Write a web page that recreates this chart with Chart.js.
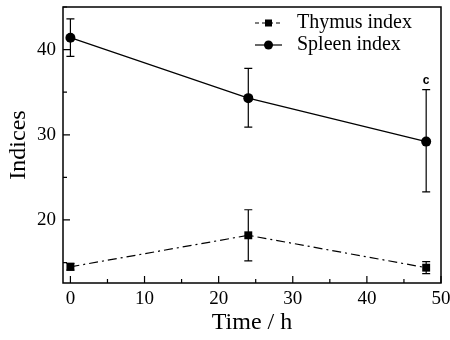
<!DOCTYPE html>
<html>
<head>
<meta charset="utf-8">
<script src="https://cdn.jsdelivr.net/npm/chart.js@4"></script>
<style>
  html, body { margin: 0; padding: 0; background: #fff; }
  #wrap { width: 450px; height: 340px; }
</style>
</head>
<body>
<div id="wrap"><canvas id="indexChart"></canvas></div>
<script>
// time points (h)
const hours = [0, 24, 48];

// series means and error bar limits
const thymus = [14.5, 18.2, 14.4];
const thymusHi = [14.9, 21.2, 15.1];
const thymusLo = [14.1, 15.2, 13.7];

const spleen = [41.4, 34.3, 29.2];
const spleenHi = [43.6, 37.8, 35.3];
const spleenLo = [39.2, 30.9, 23.3];

const xTickValues = [0, 10, 20, 30, 40, 50];
const yTickValues = [20, 30, 40];
const xMinorValues = [5, 15, 25, 35, 45];
const yMinorValues = [15, 25, 35, 45];

const serif = "'Liberation Serif', 'Times New Roman', serif";

const toPoints = (xs, ys) => xs.map((x, i) => ({ x: x, y: ys[i] }));

// error bars, inside ticks, frame, legend and the "c" mark
const decorations = {
    id: 'decorations',
    afterDatasetsDraw(chart) {
        const ctx = chart.ctx;
        const xs = chart.scales.x;
        const ys = chart.scales.y;
        const area = chart.chartArea;
        ctx.save();
        ctx.strokeStyle = '#000';
        ctx.lineWidth = 1.2;

        const bars = [[thymusHi, thymusLo], [spleenHi, spleenLo]];
        bars.forEach(function (pair) {
            hours.forEach(function (h, i) {
                const px = xs.getPixelForValue(h);
                const top = ys.getPixelForValue(pair[0][i]);
                const bot = ys.getPixelForValue(pair[1][i]);
                ctx.beginPath();
                ctx.moveTo(px, top); ctx.lineTo(px, bot);
                ctx.moveTo(px - 4, top); ctx.lineTo(px + 4, top);
                ctx.moveTo(px - 4, bot); ctx.lineTo(px + 4, bot);
                ctx.stroke();
            });
        });

        // frame
        ctx.lineWidth = 1.5;
        ctx.strokeRect(area.left, area.top, area.right - area.left, area.bottom - area.top);

        // inward ticks
        ctx.lineWidth = 1.2;
        ctx.beginPath();
        xTickValues.forEach(function (v) {
            const px = xs.getPixelForValue(v);
            ctx.moveTo(px, area.bottom); ctx.lineTo(px, area.bottom - 7);
        });
        xMinorValues.forEach(function (v) {
            const px = xs.getPixelForValue(v);
            ctx.moveTo(px, area.bottom); ctx.lineTo(px, area.bottom - 4);
        });
        yTickValues.forEach(function (v) {
            const py = ys.getPixelForValue(v);
            ctx.moveTo(area.left, py); ctx.lineTo(area.left + 7, py);
        });
        yMinorValues.forEach(function (v) {
            const py = ys.getPixelForValue(v);
            ctx.moveTo(area.left, py); ctx.lineTo(area.left + 4, py);
        });
        ctx.stroke();

        // legend
        const lx = area.right - 186;
        const rows = [
            { label: 'Thymus index', dash: [4, 3], shape: 'square', y: area.top + 16 },
            { label: 'Spleen index', dash: [], shape: 'circle', y: area.top + 38 }
        ];
        rows.forEach(function (r) {
            ctx.setLineDash(r.dash);
            ctx.lineWidth = 1.2;
            ctx.beginPath();
            ctx.moveTo(lx, r.y); ctx.lineTo(lx + 27, r.y);
            ctx.stroke();
            ctx.setLineDash([]);
            ctx.fillStyle = '#000';
            if (r.shape === 'square') {
                ctx.fillRect(lx + 13.5 - 3.5, r.y - 3.5, 7, 7);
            } else {
                ctx.beginPath();
                ctx.arc(lx + 13.5, r.y, 4.5, 0, Math.PI * 2);
                ctx.fill();
            }
            ctx.font = '20px ' + serif;
            ctx.textBaseline = 'middle';
            ctx.textAlign = 'left';
            ctx.fillText(r.label, lx + 42, r.y);
        });

        // significance letter over the 48 h spleen bar
        ctx.font = 'bold 12px "Liberation Sans", Arial, sans-serif';
        ctx.textAlign = 'center';
        ctx.textBaseline = 'bottom';
        ctx.fillText('c', xs.getPixelForValue(48), ys.getPixelForValue(spleenHi[2]) - 3);
        ctx.restore();
    }
};

new Chart(document.getElementById('indexChart'), {
    type: 'scatter',
    data: {
        datasets: [{
            label: 'Thymus index',
            data: toPoints(hours, thymus),
            showLine: true,
            borderColor: '#000',
            borderWidth: 1.2,
            borderDash: [9, 4, 2, 4],
            pointStyle: 'rect',
            pointRadius: 5.6,
            backgroundColor: '#000',
            pointBorderWidth: 0
        }, {
            label: 'Spleen index',
            data: toPoints(hours, spleen),
            showLine: true,
            borderColor: '#000',
            borderWidth: 1.2,
            pointStyle: 'circle',
            pointRadius: 5,
            backgroundColor: '#000',
            pointBorderWidth: 0
        }]
    },
    options: {
        responsive: true,
        maintainAspectRatio: false,
        animation: false,
        layout: { padding: { top: 7, right: 9, left: 0, bottom: 0 } },
        plugins: {
            legend: { display: false },
            tooltip: { enabled: false }
        },
        scales: {
            x: {
                type: 'linear',
                min: -1,
                max: 50,
                afterBuildTicks: function (scale) {
                    scale.ticks = xTickValues.map(v => ({ value: v }));
                },
                afterFit: function (scale) {
                    scale.height = 57;
                    scale.paddingLeft = 0;
                    scale.paddingRight = 0;
                },
                grid: { display: false, drawTicks: false },
                border: { display: false },
                ticks: { color: '#000', padding: 5, font: { family: serif, size: 19 } },
                title: {
                    display: true,
                    text: 'Time / h',
                    color: '#000',
                    padding: { top: 0, bottom: 3 },
                    font: { family: serif, size: 24 }
                }
            },
            y: {
                min: 12.6,
                max: 45,
                afterBuildTicks: function (scale) {
                    scale.ticks = yTickValues.map(v => ({ value: v }));
                },
                afterFit: function (scale) {
                    scale.width = 63;
                    scale.paddingTop = 0;
                    scale.paddingBottom = 0;
                },
                grid: { display: false, drawTicks: false },
                border: { display: false },
                ticks: { color: '#000', padding: 7, font: { family: serif, size: 19 } },
                title: {
                    display: true,
                    text: 'Indices',
                    color: '#000',
                    padding: { top: 4, bottom: 0 },
                    font: { family: serif, size: 24 }
                }
            }
        }
    },
    plugins: [decorations]
});
</script>
</body>
</html>
